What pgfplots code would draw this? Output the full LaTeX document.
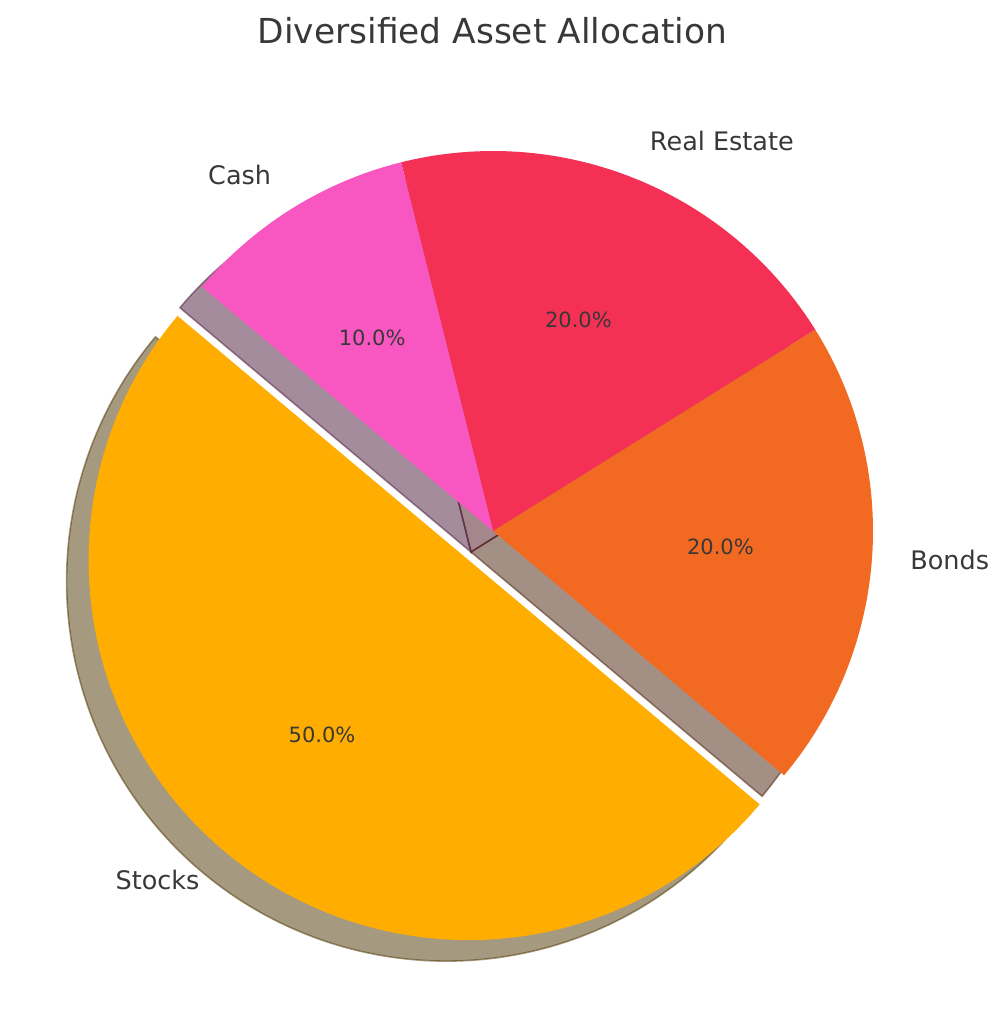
\documentclass[border=0pt]{standalone}
\usepackage{pgfplots}
\usepackage{pgfplotstable}
\pgfplotsset{compat=1.18}
\usepackage{fontspec}
\setmainfont{DejaVu Sans}
\definecolor{cA}{RGB}{255,173,0}
\definecolor{cB}{RGB}{242,106,34}
\definecolor{cC}{RGB}{244,49,85}
\definecolor{cD}{RGB}{248,87,193}
\definecolor{txt}{RGB}{56,56,56}
\pgfplotstableread{
label value
Stocks 50
Bonds 20
{Real Estate} 20
Cash 10
}\piedata
\newcommand\slice[5]{%
\addplot[#5, no markers, domain=#3:#4, samples=160] ({#1+\R*cos(x)},{#2-\R*sin(x)}) -- (axis cs:#1,#2) -- cycle;}
\newcommand\shadowslice[5]{%
\addplot[fill=#5!30!black, draw=#5!30!black, line width=0.8pt, fill opacity=0.5, draw opacity=0.5, no markers, domain=#3:#4, samples=160] ({#1+\R*cos(x)},{#2-\R*sin(x)}) -- (axis cs:#1,#2) -- cycle;}
\begin{document}
\begin{tikzpicture}
\def\R{380}\def\cx{493}\def\cy{531}\def\shx{-22}\def\shy{21}\def\start{140}
\pgfplotstablegetelem{0}{value}\of\piedata \let\vA\pgfplotsretval
\pgfplotstablegetelem{1}{value}\of\piedata \let\vB\pgfplotsretval
\pgfplotstablegetelem{2}{value}\of\piedata \let\vC\pgfplotsretval
\pgfplotstablegetelem{3}{value}\of\piedata \let\vD\pgfplotsretval
\pgfmathsetmacro\aA{\start}
\pgfmathsetmacro\aB{\aA+3.6*\vA}
\pgfmathsetmacro\aC{\aB+3.6*\vB}
\pgfmathsetmacro\aD{\aC+3.6*\vC}
\pgfmathsetmacro\aE{\aD+3.6*\vD}
\pgfmathsetmacro\mA{(\aA+\aB)/2}
\pgfmathsetmacro\mB{(\aB+\aC)/2}
\pgfmathsetmacro\mC{(\aC+\aD)/2}
\pgfmathsetmacro\mD{(\aD+\aE)/2}
\pgfmathsetmacro\exx{\cx+0.1*\R*cos(\mA)}
\pgfmathsetmacro\exy{\cy-0.1*\R*sin(\mA)}
\pgfmathsetmacro\sex{\exx+\shx}\pgfmathsetmacro\sey{\exy+\shy}
\pgfmathsetmacro\scx{\cx+\shx}\pgfmathsetmacro\scy{\cy+\shy}
% label positions
\pgfmathsetmacro\lAx{\exx+1.1*\R*cos(\mA)}\pgfmathsetmacro\lAy{\exy-1.1*\R*sin(\mA)}
\pgfmathsetmacro\lBx{\cx+1.1*\R*cos(\mB)}\pgfmathsetmacro\lBy{\cy-1.1*\R*sin(\mB)}
\pgfmathsetmacro\lCx{\cx+1.1*\R*cos(\mC)}\pgfmathsetmacro\lCy{\cy-1.1*\R*sin(\mC)-2}
\pgfmathsetmacro\lDx{\cx+1.1*\R*cos(\mD)}\pgfmathsetmacro\lDy{\cy-1.1*\R*sin(\mD)-2}
\pgfmathsetmacro\pAx{\exx+0.6*\R*cos(\mA)}\pgfmathsetmacro\pAy{\exy-0.6*\R*sin(\mA)}
\pgfmathsetmacro\pBx{\cx+0.6*\R*cos(\mB)}\pgfmathsetmacro\pBy{\cy-0.6*\R*sin(\mB)}
\pgfmathsetmacro\pCx{\cx+0.6*\R*cos(\mC)}\pgfmathsetmacro\pCy{\cy-0.6*\R*sin(\mC)}
\pgfmathsetmacro\pDx{\cx+0.6*\R*cos(\mD)}\pgfmathsetmacro\pDy{\cy-0.6*\R*sin(\mD)}
\begin{axis}[width=503pt,height=512pt,scale only axis,
  xmin=0,xmax=1006,ymin=0,ymax=1024,y dir=reverse,
  hide axis,clip=false]
\path (rel axis cs:0,0) rectangle (rel axis cs:1,1);
% shadows
\shadowslice{\sex}{\sey}{\aA}{\aB}{cA}
\shadowslice{\scx}{\scy}{\aB}{\aC}{cB}
\shadowslice{\scx}{\scy}{\aC}{\aD}{cC}
\shadowslice{\scx}{\scy}{\aD}{\aE}{cD}
% wedges
\slice{\exx}{\exy}{\aA}{\aB}{fill=cA,draw=none}
\slice{\cx}{\cy}{\aB}{\aC}{fill=cB,draw=none}
\slice{\cx}{\cy}{\aC}{\aD}{fill=cC,draw=none}
\slice{\cx}{\cy}{\aD}{\aE}{fill=cD,draw=none}
% labels
\node[anchor=east,inner sep=0pt,text=txt,font=\fontsize{12.75}{15}\selectfont] at (axis cs:\lAx,\lAy) {Stocks};
\node[anchor=west,inner sep=0pt,text=txt,font=\fontsize{12.75}{15}\selectfont] at (axis cs:\lBx,\lBy) {Bonds};
\node[anchor=west,inner sep=0pt,text=txt,font=\fontsize{12.75}{15}\selectfont] at (axis cs:\lCx,\lCy) {Real Estate};
\node[anchor=east,inner sep=0pt,text=txt,font=\fontsize{12.75}{15}\selectfont] at (axis cs:\lDx,\lDy) {Cash};
\node[text=txt,font=\fontsize{10.5}{12}\selectfont] at (axis cs:\pAx,\pAy) {50.0\%};
\node[text=txt,font=\fontsize{10.5}{12}\selectfont] at (axis cs:\pBx,\pBy) {20.0\%};
\node[text=txt,font=\fontsize{10.5}{12}\selectfont] at (axis cs:\pCx,\pCy) {20.0\%};
\node[text=txt,font=\fontsize{10.5}{12}\selectfont] at (axis cs:\pDx,\pDy) {10.0\%};
\node[anchor=base,text=txt,font=\fontsize{17.2}{20}\selectfont] at (axis cs:492.5,43) {Diversified Asset Allocation};
\end{axis}
\end{tikzpicture}
\end{document}
